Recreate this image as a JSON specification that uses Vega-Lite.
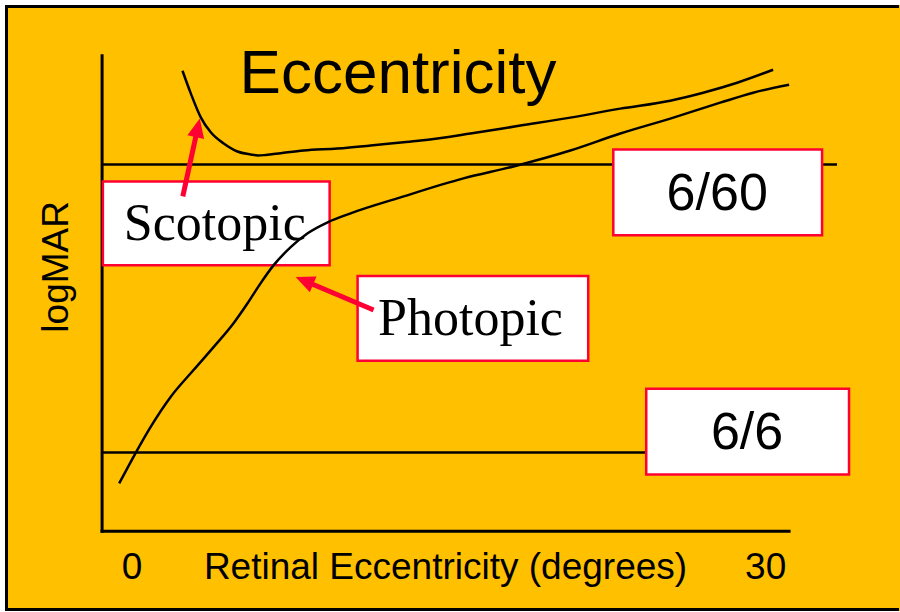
{
  "$schema": "https://vega.github.io/schema/vega-lite/v6.json",
  "width": 900,
  "height": 612,
  "autosize": {"type": "fit", "contains": "padding"},
  "padding": {"left": 4, "top": 4, "right": 0, "bottom": 0},
  "background": "white",
  "config": {"view": {"fill": "#FFC000", "stroke": null}},
  "datasets": {
    "lines": [
      {"kind": "frame", "x": -5.945, "y": 1.5484, "x2": -5.945, "y2": -0.5450},
      {"kind": "frame", "x": -5.945, "y": 1.5484, "x2": 36.243, "y2": 1.5484},
      {"kind": "frame", "x": -5.945, "y": -0.5450, "x2": 36.243, "y2": -0.5450},
      {"kind": "axis", "x": -1.419, "y": 1.3772, "x2": -1.419, "y2": -0.2734},
      {"kind": "axis", "x": -1.419, "y": -0.2734, "x2": 31.11, "y2": -0.2734},
      {"kind": "ref", "x": -1.419, "y": 1, "x2": 33.38, "y2": 1},
      {"kind": "ref", "x": -1.419, "y": 0, "x2": 26.9, "y2": 0}
    ],
    "boxes": [
      {"box": "Scotopic", "x": -1.381, "x2": 9.355, "y": 0.941, "y2": 0.6505},
      {"box": "Photopic", "x": 10.679, "x2": 21.599, "y": 0.6125, "y2": 0.3183},
      {"box": "6/60", "x": 22.787, "x2": 32.672, "y": 1.0519, "y2": 0.7543},
      {"box": "6/6", "x": 24.347, "x2": 33.948, "y": 0.2215, "y2": -0.0761}
    ],
    "curves": [
      {"curve": "Scotopic", "x": 2.388, "y": 1.3253},
      {"curve": "Scotopic", "x": 2.781, "y": 1.2467},
      {"curve": "Scotopic", "x": 3.254, "y": 1.1637},
      {"curve": "Scotopic", "x": 3.727, "y": 1.1118},
      {"curve": "Scotopic", "x": 4.342, "y": 1.0727},
      {"curve": "Scotopic", "x": 4.990, "y": 1.0450},
      {"curve": "Scotopic", "x": 5.619, "y": 1.0346},
      {"curve": "Scotopic", "x": 5.950, "y": 1.0311},
      {"curve": "Scotopic", "x": 6.329, "y": 1.0329},
      {"curve": "Scotopic", "x": 7.038, "y": 1.0391},
      {"curve": "Scotopic", "x": 8.126, "y": 1.0484},
      {"curve": "Scotopic", "x": 9.720, "y": 1.0554},
      {"curve": "Scotopic", "x": 11.295, "y": 1.0657},
      {"curve": "Scotopic", "x": 12.855, "y": 1.0772},
      {"curve": "Scotopic", "x": 13.659, "y": 1.0830},
      {"curve": "Scotopic", "x": 16.024, "y": 1.1073},
      {"curve": "Scotopic", "x": 18.389, "y": 1.1349},
      {"curve": "Scotopic", "x": 20.754, "y": 1.1626},
      {"curve": "Scotopic", "x": 23.119, "y": 1.1938},
      {"curve": "Scotopic", "x": 25.484, "y": 1.2215},
      {"curve": "Scotopic", "x": 27.044, "y": 1.2491},
      {"curve": "Scotopic", "x": 28.652, "y": 1.2837},
      {"curve": "Scotopic", "x": 30.355, "y": 1.3287},
      {"curve": "Photopic", "x": -0.610, "y": -0.1073},
      {"curve": "Photopic", "x": 0.180, "y": 0.0},
      {"curve": "Photopic", "x": 0.889, "y": 0.0900},
      {"curve": "Photopic", "x": 1.835, "y": 0.1938},
      {"curve": "Photopic", "x": 2.923, "y": 0.2872},
      {"curve": "Photopic", "x": 3.869, "y": 0.3668},
      {"curve": "Photopic", "x": 4.815, "y": 0.4498},
      {"curve": "Photopic", "x": 5.477, "y": 0.5190},
      {"curve": "Photopic", "x": 6.092, "y": 0.5882},
      {"curve": "Photopic", "x": 6.707, "y": 0.6505},
      {"curve": "Photopic", "x": 7.511, "y": 0.7128},
      {"curve": "Photopic", "x": 8.315, "y": 0.7612},
      {"curve": "Photopic", "x": 9.261, "y": 0.7993},
      {"curve": "Photopic", "x": 10.349, "y": 0.8304},
      {"curve": "Photopic", "x": 12.713, "y": 0.8858},
      {"curve": "Photopic", "x": 15.693, "y": 0.9516},
      {"curve": "Photopic", "x": 18.058, "y": 0.9931},
      {"curve": "Photopic", "x": 20.754, "y": 1.0484},
      {"curve": "Photopic", "x": 23.119, "y": 1.1073},
      {"curve": "Photopic", "x": 25.484, "y": 1.1592},
      {"curve": "Photopic", "x": 27.849, "y": 1.2145},
      {"curve": "Photopic", "x": 29.409, "y": 1.2491},
      {"curve": "Photopic", "x": 31.112, "y": 1.2768}
    ],
    "arrows": [
      {"arrow": "Scotopic", "x": 2.403, "y": 0.8893, "x2": 3.084, "y2": 1.1187},
      {"arrow": "Photopic", "x": 11.437, "y": 0.4948, "x2": 8.268, "y2": 0.5927}
    ],
    "heads": [
      {"arrow": "Scotopic", "x": 3.207, "y": 1.1592},
      {"arrow": "Photopic", "x": 7.747, "y": 0.6090}
    ],
    "texts": [
      {"role": "title", "label": "Eccentricity", "x": 12.595, "y": 1.2491},
      {"role": "box", "label": "6/60", "x": 27.707, "y": 0.8408},
      {"role": "box", "label": "6/6", "x": 29.12, "y": 0.01384},
      {"role": "serif", "label": "Scotopic", "x": 3.916, "y": 0.737},
      {"role": "serif", "label": "Photopic", "x": 16.025, "y": 0.4083},
      {"role": "axis", "label": "0", "x": 0, "y": -0.4394},
      {"role": "axis", "label": "30", "x": 30, "y": -0.4394},
      {"role": "axis", "label": "Retinal Eccentricity (degrees)", "x": 14.842, "y": -0.4394},
      {"role": "yaxis", "label": "logMAR", "x": -3.036, "y": 0.6446}
    ]
  },
  "encoding": {
    "x": {"field": "x", "type": "quantitative", "scale": {"domain": [-6.016, 36.362], "nice": false, "zero": false}, "axis": null},
    "y": {"field": "y", "type": "quantitative", "scale": {"domain": [-0.5502, 1.5536], "nice": false, "zero": false}, "axis": null}
  },
  "layer": [
    {
      "data": {"name": "lines"},
      "transform": [{"filter": "datum.kind === 'frame'"}],
      "mark": {"type": "rule", "color": "black", "strokeWidth": 3, "strokeCap": "square"},
      "encoding": {"x2": {"field": "x2"}, "y2": {"field": "y2"}}
    },
    {
      "data": {"name": "lines"},
      "transform": [{"filter": "datum.kind === 'ref'"}],
      "mark": {"type": "rule", "color": "black", "strokeWidth": 2.5},
      "encoding": {"x2": {"field": "x2"}, "y2": {"field": "y2"}}
    },
    {
      "data": {"name": "lines"},
      "transform": [{"filter": "datum.kind === 'axis'"}],
      "mark": {"type": "rule", "color": "black", "strokeWidth": 3, "strokeCap": "square"},
      "encoding": {"x2": {"field": "x2"}, "y2": {"field": "y2"}}
    },
    {
      "data": {"name": "boxes"},
      "mark": {"type": "rect", "fill": "white", "stroke": "#FF0033", "strokeWidth": 2.5},
      "encoding": {"x2": {"field": "x2"}, "y2": {"field": "y2"}}
    },
    {
      "data": {"name": "curves"},
      "mark": {"type": "line", "color": "black", "strokeWidth": 2.5, "interpolate": "monotone"},
      "encoding": {"detail": {"field": "curve"}}
    },
    {
      "data": {"name": "arrows"},
      "mark": {"type": "rule", "color": "#FF0033", "strokeWidth": 5},
      "encoding": {"x2": {"field": "x2"}, "y2": {"field": "y2"}}
    },
    {
      "data": {"name": "heads"},
      "transform": [{"filter": "datum.arrow === 'Scotopic'"}],
      "mark": {"type": "point", "shape": "M0,0L0.45,1L-0.45,1Z", "filled": true, "color": "#FF0033", "opacity": 1, "size": 1444, "angle": 12.3, "strokeWidth": 0}
    },
    {
      "data": {"name": "heads"},
      "transform": [{"filter": "datum.arrow === 'Photopic'"}],
      "mark": {"type": "point", "shape": "M0,0L0.45,1L-0.45,1Z", "filled": true, "color": "#FF0033", "opacity": 1, "size": 1444, "angle": 292.9, "strokeWidth": 0}
    },
    {
      "data": {"name": "texts"},
      "transform": [{"filter": "datum.role === 'title'"}],
      "mark": {"type": "text", "font": "Liberation Sans", "fontSize": 62, "color": "black", "align": "center", "baseline": "alphabetic"},
      "encoding": {"text": {"field": "label"}}
    },
    {
      "data": {"name": "texts"},
      "transform": [{"filter": "datum.role === 'box'"}],
      "mark": {"type": "text", "font": "Liberation Sans", "fontSize": 52, "color": "black", "align": "center", "baseline": "alphabetic"},
      "encoding": {"text": {"field": "label"}}
    },
    {
      "data": {"name": "texts"},
      "transform": [{"filter": "datum.role === 'serif'"}],
      "mark": {"type": "text", "font": "Liberation Serif", "fontSize": 52, "color": "black", "align": "center", "baseline": "alphabetic"},
      "encoding": {"text": {"field": "label"}}
    },
    {
      "data": {"name": "texts"},
      "transform": [{"filter": "datum.role === 'axis'"}],
      "mark": {"type": "text", "font": "Liberation Sans", "fontSize": 37, "color": "black", "align": "center", "baseline": "alphabetic"},
      "encoding": {"text": {"field": "label"}}
    },
    {
      "data": {"name": "texts"},
      "transform": [{"filter": "datum.role === 'yaxis'"}],
      "mark": {"type": "text", "font": "Liberation Sans", "fontSize": 37, "color": "black", "align": "center", "baseline": "alphabetic", "angle": 270},
      "encoding": {"text": {"field": "label"}}
    }
  ]
}
